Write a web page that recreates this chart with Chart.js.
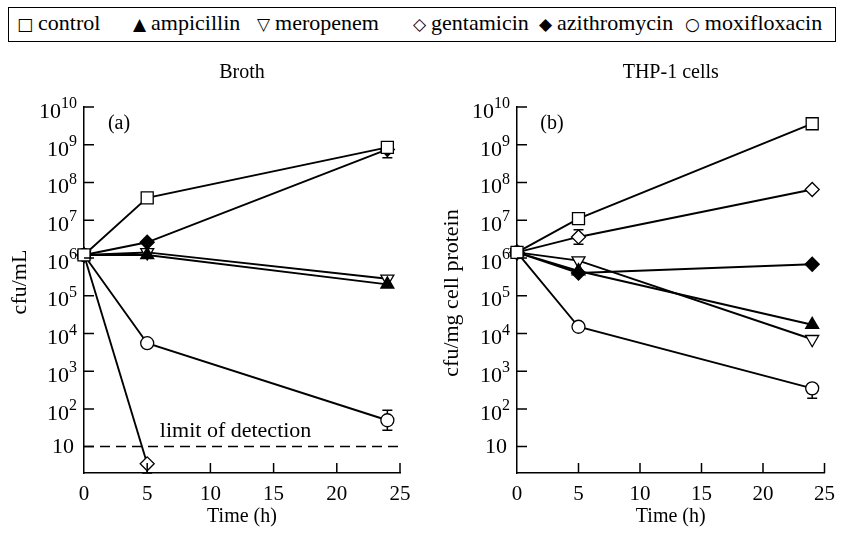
<!DOCTYPE html>
<html>
<head>
<meta charset="utf-8">
<script src="https://cdn.jsdelivr.net/npm/chart.js@4.4.0/dist/chart.umd.min.js"></script>
<style>
  body { margin: 0; background: #fff; }
  #wrap { position: relative; width: 844px; height: 533px; font-family: 'Liberation Serif', serif; color: #000; }
  #legend { position: absolute; left: 8px; top: 7px; width: 828px; height: 35px; border: 1px solid #000; box-sizing: border-box; font-size: 22px; }
  #legend span.item { position: absolute; top: 2px; white-space: nowrap; }
  #legend span.sym { font-family: 'DejaVu Sans', sans-serif; font-size: 17px; margin-right: 5px; }
  canvas { position: absolute; top: 50px; }
</style>
</head>
<body>
<div id="wrap">
  <div id="legend"></div>
  <canvas id="broth" width="422" height="483" style="left:0px"></canvas>
  <canvas id="cells" width="422" height="483" style="left:422px"></canvas>
</div>
<script>
const times = [0, 5, 24];
const seriesNames = ['control', 'ampicillin', 'meropenem', 'gentamicin', 'azithromycin', 'moxifloxacin'];
const legendSymbols = ['\u25A1', '\u25B2', '\u25BD', '\u25C7', '\u25C6', '\u25CB'];

// (a) Broth, cfu/mL
const brothControl      = [1.2e6, 3.9e7, 8.5e8];
const brothAmpicillin   = [1.2e6, 1.2e6, 2.0e5];
const brothMeropenem    = [1.2e6, 1.4e6, 2.8e5];
const brothGentamicin   = [1.2e6, 3.5];
const brothAzithromycin = [1.2e6, 2.6e6, 7.5e8];
const brothMoxifloxacin = [1.2e6, 5.5e3, 50];

// error bars, [low, high] at each time point
const brothGentamicinErr   = [null, [2, 3.5]];
const brothAzithromycinErr = [null, null, [4.5e8, 1.0e9]];
const brothMoxifloxacinErr = [null, null, [27, 92]];

// (b) THP-1 cells, cfu/mg cell protein
const cellControl      = [1.4e6, 1.1e7, 3.6e9];
const cellAmpicillin   = [1.4e6, 4.5e5, 1.7e4];
const cellMeropenem    = [1.4e6, 8.5e5, 7.0e3];
const cellGentamicin   = [1.4e6, 3.6e6, 6.5e7];
const cellAzithromycin = [1.4e6, 4.0e5, 6.8e5];
const cellMoxifloxacin = [1.4e6, 1.5e4, 350];

const cellGentamicinErr   = [null, [2.3e6, 5.6e6], null];
const cellMoxifloxacinErr = [null, null, [190, 350]];

const xTicks = [0, 5, 10, 15, 20, 25];
const yTickExponents = [1, 2, 3, 4, 5, 6, 7, 8, 9, 10];
const limitOfDetection = 10;

const FONT = '"Liberation Serif", serif';

// marker look for each series, same order as seriesNames
const markers = [
  { style: 'rect', r: 8.5, fill: '#fff' },
  { style: 'triangle', r: 7.5, fill: '#000' },
  { style: 'triangle', r: 7.5, fill: '#fff', rot: 180 },
  { style: 'rectRot', r: 7, fill: '#fff' },
  { style: 'rectRot', r: 7, fill: '#000' },
  { style: 'circle', r: 6.5, fill: '#fff' }
];

// legend
const legendX = [8, 124, 248, 404, 530, 676];
const legendEl = document.getElementById('legend');
seriesNames.forEach((name, i) => {
  const item = document.createElement('span');
  item.className = 'item';
  item.style.left = legendX[i] + 'px';
  item.innerHTML = '<span class="sym">' + legendSymbols[i] + '</span>' + name;
  legendEl.appendChild(item);
});

// axes ticks, labels, titles, error bars and the detection limit
const panelPlugin = {
  id: 'panel',
  beforeDatasetsDraw(chart, args, opts) {
    const ctx = chart.ctx, area = chart.chartArea;
    const xs = chart.scales.x, ys = chart.scales.y;
    ctx.save();
    ctx.strokeStyle = '#000';
    ctx.fillStyle = '#000';

    if (opts.limit) {
      const ly = ys.getPixelForValue(limitOfDetection);
      ctx.lineWidth = 1.5;
      ctx.setLineDash([10, 6]);
      ctx.beginPath();
      ctx.moveTo(area.left, ly);
      ctx.lineTo(area.right, ly);
      ctx.stroke();
      ctx.setLineDash([]);
      ctx.font = '22px ' + FONT;
      ctx.textAlign = 'left';
      ctx.textBaseline = 'middle';
      ctx.fillText('limit of detection', xs.getPixelForValue(6), ly - 15);
    }

    ctx.lineWidth = 1.5;
    chart.data.datasets.forEach(ds => {
      if (!ds.err) return;
      ds.err.forEach((e, i) => {
        if (!e) return;
        const px = xs.getPixelForValue(ds.data[i].x);
        const y1 = ys.getPixelForValue(e[0]), y2 = ys.getPixelForValue(e[1]);
        ctx.beginPath();
        ctx.moveTo(px, y1); ctx.lineTo(px, y2);
        ctx.moveTo(px - 5, y1); ctx.lineTo(px + 5, y1);
        ctx.moveTo(px - 5, y2); ctx.lineTo(px + 5, y2);
        ctx.stroke();
      });
    });
    ctx.restore();
  },
  afterDraw(chart, args, opts) {
    const ctx = chart.ctx, area = chart.chartArea;
    const xs = chart.scales.x, ys = chart.scales.y;
    ctx.save();
    ctx.strokeStyle = '#000';
    ctx.fillStyle = '#000';
    ctx.lineWidth = 1.5;

    // inward tick marks
    ctx.beginPath();
    yTickExponents.forEach(e => {
      const py = ys.getPixelForValue(Math.pow(10, e));
      ctx.moveTo(area.left, py);
      ctx.lineTo(area.left + 10, py);
    });
    xTicks.slice(1).forEach(v => {
      const px = xs.getPixelForValue(v);
      ctx.moveTo(px, area.bottom);
      ctx.lineTo(px, area.bottom - 10);
    });
    ctx.stroke();

    // y tick labels as 10 with a raised exponent
    ctx.textBaseline = 'middle';
    ctx.textAlign = 'right';
    const right = area.left - 7;
    yTickExponents.forEach(e => {
      const py = ys.getPixelForValue(Math.pow(10, e));
      if (e === 1) {
        ctx.font = '22px ' + FONT;
        ctx.fillText('10', right - 3, py + 1);
        return;
      }
      ctx.font = '16px ' + FONT;
      const exp = String(e);
      const w = ctx.measureText(exp).width;
      ctx.fillText(exp, right, py - 3);
      ctx.font = '22px ' + FONT;
      ctx.fillText('10', right - w, py + 5);
    });

    // titles
    ctx.font = '20px ' + FONT;
    ctx.textAlign = 'center';
    ctx.fillText(opts.title, (area.left + area.right) / 2, 23);
    ctx.fillText('Time (h)', (area.left + area.right) / 2, 467);
    ctx.fillText(opts.tag, area.left + 35, area.top + 17);

    ctx.font = '22px ' + FONT;
    ctx.translate(opts.yTitleX, opts.yTitleY);
    ctx.rotate(-Math.PI / 2);
    ctx.fillText(opts.yTitle, 0, 0);
    ctx.restore();
  }
};

function makeChart(id, series, errs, opt) {
  const datasets = series.map((vals, i) => ({
    label: seriesNames[i],
    data: vals.map((v, j) => ({ x: times[j], y: v })),
    err: errs[i],
    borderColor: '#000',
    borderWidth: 1.9,
    pointStyle: markers[i].style,
    pointRotation: markers[i].rot || 0,
    pointRadius: markers[i].r,
    pointBackgroundColor: markers[i].fill,
    pointBorderColor: '#000',
    pointBorderWidth: 1.3,
    tension: 0,
    clip: false
  }));

  return new Chart(document.getElementById(id), {
    type: 'line',
    data: { datasets },
    options: {
      responsive: false,
      animation: false,
      events: [],
      layout: { padding: { top: 57, right: opt.padRight, left: 0, bottom: 0 } },
      plugins: { legend: { display: false }, tooltip: { enabled: false }, panel: opt },
      scales: {
        x: {
          type: 'linear', min: 0, max: 25,
          afterBuildTicks: s => { s.ticks = xTicks.map(v => ({ value: v })); },
          grid: { display: false, drawTicks: false },
          border: { color: '#000', width: 1.5 },
          ticks: { color: '#000', font: { family: 'Liberation Serif', size: 21 }, padding: 9, maxRotation: 0, autoSkip: false },
          afterFit: s => { s.height = 60; }
        },
        y: {
          type: 'logarithmic', min: 2, max: 1e10,
          afterBuildTicks: s => { s.ticks = yTickExponents.map(e => ({ value: Math.pow(10, e) })); },
          grid: { display: false, drawTicks: false },
          border: { color: '#000', width: 1.5 },
          ticks: { display: false },
          afterFit: s => { s.width = opt.axisLeft; }
        }
      }
    },
    plugins: [panelPlugin]
  });
}

makeChart('broth',
  [brothControl, brothAmpicillin, brothMeropenem, brothGentamicin, brothAzithromycin, brothMoxifloxacin],
  [null, null, null, brothGentamicinErr, brothAzithromycinErr, brothMoxifloxacinErr],
  { title: 'Broth', tag: '(a)', yTitle: 'cfu/mL', yTitleX: 20, yTitleY: 232, axisLeft: 84, padRight: 22, limit: true });

makeChart('cells',
  [cellControl, cellAmpicillin, cellMeropenem, cellGentamicin, cellAzithromycin, cellMoxifloxacin],
  [null, null, null, cellGentamicinErr, null, cellMoxifloxacinErr],
  { title: 'THP-1 cells', tag: '(b)', yTitle: 'cfu/mg cell protein', yTitleX: 30, yTitleY: 243, axisLeft: 95, padRight: 11, limit: false });
</script>
</body>
</html>
